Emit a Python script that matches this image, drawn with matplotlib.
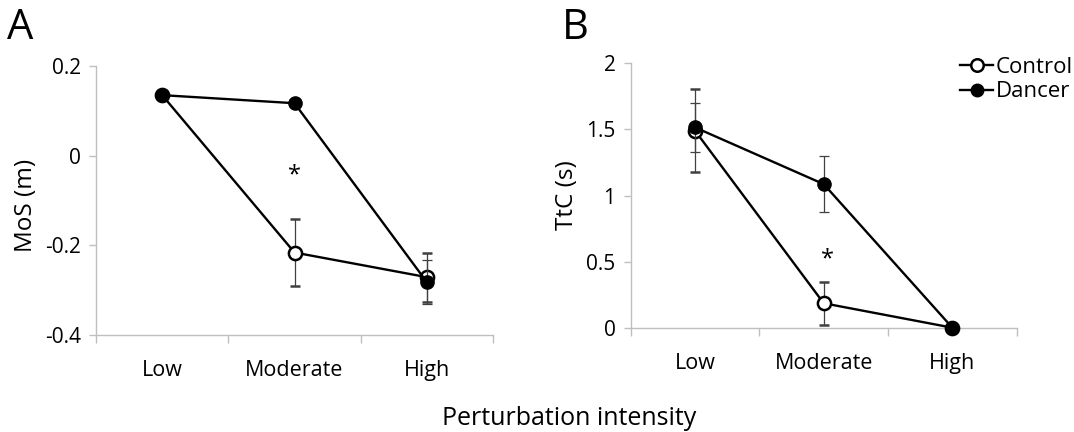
import matplotlib
matplotlib.use("Agg")
import matplotlib.pyplot as plt
from matplotlib.lines import Line2D
import numpy as np

plt.rcParams['font.family'] = ['Open Sans', 'DejaVu Sans']

categories = ["Low", "Moderate", "High"]

# Panel A: MoS (m)
mos_control = [0.135, -0.216, -0.271]
mos_control_err = [0.0, 0.075, 0.055]
mos_dancer = [0.135, 0.117, -0.282]
mos_dancer_err = [0.0, 0.006, 0.049]

# Panel B: TtC (s)
ttc_control = [1.49, 0.185, 0.0]
ttc_control_err = [0.313, 0.163, 0.0]
ttc_dancer = [1.515, 1.086, 0.0]
ttc_dancer_err = [0.187, 0.21, 0.0]

spine_col = "#bfbfbf"

fig = plt.figure(figsize=(10.74, 4.32), dpi=100)
axA = fig.add_axes([96/1074, 1-335/432, (493-96)/1074, (335-66)/432])
axB = fig.add_axes([630.7/1074, 1-327.7/432, (1016.7-630.7)/1074, (327.7-63.3)/432])

x = np.arange(len(categories))

def draw(ax, c, ce, d, de, ylim, yticks, yticklabels, ylabel):
    ec = ax.errorbar(x, c, yerr=ce, color="black", lw=1.7, marker="o", ms=9.5,
                     mfc="white", mec="black", mew=1.8, ecolor="#404040",
                     elinewidth=0.9, capsize=3.5, capthick=0.9, zorder=3)
    ed = ax.errorbar(x, d, yerr=de, color="black", lw=1.7, marker="o", ms=9.5,
                     mfc="black", mec="black", ecolor="#404040",
                     elinewidth=0.9, capsize=3.5, capthick=0.9, zorder=4)
    for cont in (ec, ed):
        cont.lines[0].set_clip_on(False)
    ax.set_xlim(-0.5, 2.5)
    ax.set_ylim(*ylim)
    ax.set_yticks(yticks)
    ax.set_yticklabels(yticklabels, fontsize=15)
    ax.set_xticks(x)
    ax.set_xticklabels(categories, fontsize=15.5)
    ax.set_xticks([-0.5, 0.5, 1.5, 2.5], minor=True)
    ax.tick_params(axis="x", which="major", length=0, pad=18)
    ax.tick_params(axis="x", which="minor", length=6, color=spine_col, width=1)
    ax.tick_params(axis="y", length=5, color=spine_col, width=1, pad=6)
    for s in ["top", "right"]:
        ax.spines[s].set_visible(False)
    for s in ["left", "bottom"]:
        ax.spines[s].set_color(spine_col)
        ax.spines[s].set_linewidth(1)
    ax.set_ylabel(ylabel, fontsize=17.5)
    for sp in ax.spines.values():
        sp.set_zorder(1)

draw(axA, mos_control, mos_control_err, mos_dancer, mos_dancer_err,
     (-0.4, 0.2), [-0.4, -0.2, 0, 0.2], ["-0.4", "-0.2", "0", "0.2"], "MoS (m)")
draw(axB, ttc_control, ttc_control_err, ttc_dancer, ttc_dancer_err,
     (0, 2), [0, 0.5, 1, 1.5, 2], ["0", "0.5", "1", "1.5", "2"], "TtC (s)")

axA.yaxis.set_label_coords(-58/397, 0.48)
axB.yaxis.set_label_coords(-52/386, 0.5)

# significance asterisks
axA.text(1, -0.045, "*", ha="center", va="center", fontsize=17)
axB.text(1.03, 0.52, "*", ha="center", va="center", fontsize=17)

# legend
handles = [
    Line2D([], [], color="black", lw=1.7, marker="o", ms=9, mfc="white", mec="black", mew=1.8),
    Line2D([], [], color="black", lw=1.7, marker="o", ms=9, mfc="black", mec="black"),
]
fig.legend(handles, ["Control", "Dancer"], loc="upper left",
           bbox_to_anchor=(960/1074, 1-57/432),
           frameon=False, fontsize=16, handlelength=1.5, handletextpad=0.1,
           labelspacing=0.15, borderpad=0, borderaxespad=0)

fig.text(7/1074, 1-39/432, "A", fontsize=30)
fig.text(562/1074, 1-39/432, "B", fontsize=30)
fig.text(569/1074, 1-425/432, "Perturbation intensity", ha="center", va="baseline", fontsize=18)

fig.savefig("out.png", dpi=100)
